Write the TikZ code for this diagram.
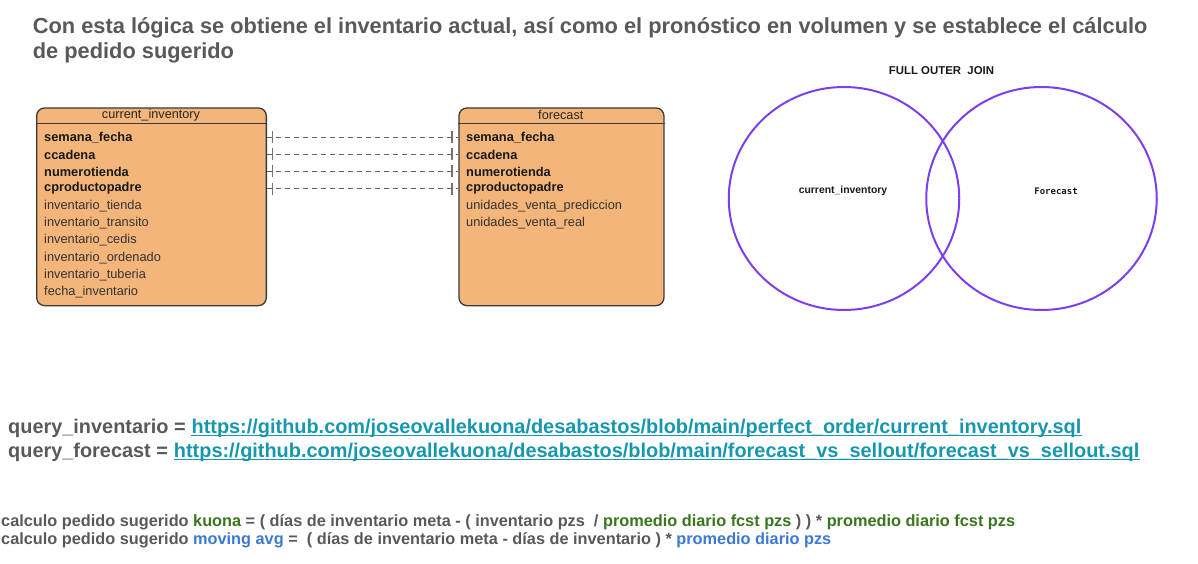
\documentclass[tikz,border=0pt]{standalone}
\usepackage{fontspec}
\setmainfont{Liberation Sans}
\newfontfamily\vennmono{DejaVu Sans Mono}
\usetikzlibrary{shapes.geometric,decorations.markings}

\definecolor{tablefill}{HTML}{F4B57B}
\definecolor{tabledraw}{HTML}{3A3A3A}
\definecolor{textgrey}{HTML}{595959}
\definecolor{linkteal}{HTML}{1797AD}
\definecolor{kuonagreen}{HTML}{38761D}
\definecolor{avgblue}{HTML}{3C78D8}
\definecolor{vennpurple}{HTML}{7B3FF0}

\tikzset{
  tablebox/.style={draw=tabledraw, line width=1.3pt, fill=tablefill,
    rounded corners=8pt, anchor=north west, inner sep=0pt},
  tablehead/.style={inner sep=0pt, font=\fontsize{12.7}{14}\selectfont, text=black!85},
  keycol/.style={anchor=west, inner sep=0pt,
    font=\fontsize{12.8}{14}\selectfont\bfseries, text=black!90},
  datacol/.style={anchor=west, inner sep=0pt,
    font=\fontsize{12.8}{14}\selectfont, text=black!80},
  keylink/.style={draw=black!62, line width=1.1pt, dash pattern=on 5pt off 4pt,
    postaction={decorate},
    decoration={markings,
      mark=at position 5.3pt with {\draw[solid, black!55, line width=1.3pt] (0,-6pt) -- (0,6pt);},
      mark=at position -6.3pt with {\draw[solid, black!55, line width=1.3pt] (0,-6pt) -- (0,6pt);}}},
  vennset/.style={ellipse, draw=vennpurple, line width=2pt, inner sep=0pt},
  textline/.style={anchor=base west, inner sep=0pt, text=textgrey},
  querytext/.style={textline, font=\fontsize{19.9}{23}\selectfont\bfseries},
  urltext/.style={querytext, text=linkteal},
  urlline/.style={draw=linkteal, line width=1.4pt},
}

\begin{document}
\begin{tikzpicture}[x=1pt, y=-1pt]
  \useasboundingbox (0,0) rectangle (1198,564);

  % title
  \node[textline, font=\fontsize{21.8}{26}\selectfont\bfseries] (title-1) at (32.7,34)
    {Con esta lógica se obtiene el inventario actual, así como el pronóstico en volumen y se establece el cálculo};
  \node[textline, font=\fontsize{21.8}{26}\selectfont\bfseries] (title-2) at (32.7,58.3)
    {de pedido sugerido};

  % table current_inventory
  \node[tablebox, minimum width=229.7, minimum height=197.7] (ci) at (36,107.3) {};
  \draw[tabledraw, line width=1.3pt] ([yshift=-16pt]ci.north west) -- ([yshift=-16pt]ci.north east);
  \node[tablehead] (ci-title) at (151,115) {current\_inventory};
  \node[keycol] (ci-1) at (44,137.3) {semana\_fecha};
  \node[keycol] (ci-2) at (44,154.5) {ccadena};
  \node[keycol] (ci-3) at (44,171.5) {numerotienda};
  \node[keycol] (ci-4) at (44,188.5) {cproductopadre};
  \node[datacol] (ci-5) at (44,206.1) {inventario\_tienda};
  \node[datacol] (ci-6) at (44,223.3) {inventario\_transito};
  \node[datacol] (ci-7) at (44,240.5) {inventario\_cedis};
  \node[datacol] (ci-8) at (44,257.7) {inventario\_ordenado};
  \node[datacol] (ci-9) at (44,274.9) {inventario\_tuberia};
  \node[datacol] (ci-10) at (44,292.1) {fecha\_inventario};

  % table forecast
  \node[tablebox, minimum width=205, minimum height=197.7] (fc) at (458.3,107.3) {};
  \draw[tabledraw, line width=1.3pt] ([yshift=-16pt]fc.north west) -- ([yshift=-16pt]fc.north east);
  \node[tablehead] (fc-title) at (560.8,115) {forecast};
  \node[keycol] (fc-1) at (466,137.3) {semana\_fecha};
  \node[keycol] (fc-2) at (466,154.5) {ccadena};
  \node[keycol] (fc-3) at (466,171.5) {numerotienda};
  \node[keycol] (fc-4) at (466,188.5) {cproductopadre};
  \node[datacol] (fc-5) at (466,206.1) {unidades\_venta\_prediccion};
  \node[datacol] (fc-6) at (466,223.3) {unidades\_venta\_real};

  % join keys
  \draw[keylink] (ci.east |- ci-1) -- (fc.west |- fc-1);
  \draw[keylink] (ci.east |- ci-2) -- (fc.west |- fc-2);
  \draw[keylink] (ci.east |- ci-3) -- (fc.west |- fc-3);
  \draw[keylink] (ci.east |- ci-4) -- (fc.west |- fc-4);

  % venn
  \node[inner sep=0pt, font=\fontsize{11.4}{13}\selectfont\bfseries, text=black!90] (venn-title) at (941.5,71) {FULL OUTER\ \ JOIN};
  \node[vennset, minimum width=230.5, minimum height=223] (venn-ci) at (844,198.5) {};
  \node[vennset, minimum width=230.5, minimum height=223] (venn-fc) at (1041.5,198.5) {};
  \node[inner sep=0pt, font=\fontsize{10.4}{12}\selectfont\bfseries, text=black!90] (venn-ci-label) at (843,191) {current\_inventory};
  \node[inner sep=0pt, font=\vennmono\fontsize{9}{11}\selectfont\bfseries, text=black!90] (venn-fc-label) at (1056,191) {Forecast};

  % queries
  \node[querytext] (q-inv) at (8,433) {query\_inventario =};
  \node[urltext] (q-inv-url) at ([xshift=5.5pt]q-inv.base east)
    {https://github.com/joseovallekuona/desabastos/blob/main/perfect\_order/current\_inventory.sql};
  \draw[urlline] ([yshift=-2.6pt]q-inv-url.base west) -- ([yshift=-2.6pt]q-inv-url.base east);
  \node[querytext] (q-fc) at (8,457) {query\_forecast =};
  \node[urltext] (q-fc-url) at ([xshift=5.5pt]q-fc.base east)
    {https://github.com/joseovallekuona/desabastos/blob/main/forecast\_vs\_sellout/forecast\_vs\_sellout.sql};
  \draw[urlline] ([yshift=-2.6pt]q-fc-url.base west) -- ([yshift=-2.6pt]q-fc-url.base east);

  % formulas
  \node[textline, font=\fontsize{16.3}{19}\selectfont\bfseries] (calc-kuona) at (1,526)
    {calculo pedido sugerido \textcolor{kuonagreen}{kuona} = ( días de inventario meta - ( inventario pzs\ \ / \textcolor{kuonagreen}{promedio diario fcst pzs} ) ) * \textcolor{kuonagreen}{promedio diario fcst pzs}};
  \node[textline, font=\fontsize{16.3}{19}\selectfont\bfseries] (calc-avg) at (1,544)
    {calculo pedido sugerido \textcolor{avgblue}{moving avg} =\ \ ( días de inventario meta - días de inventario ) * \textcolor{avgblue}{promedio diario pzs}};
\end{tikzpicture}
\end{document}
